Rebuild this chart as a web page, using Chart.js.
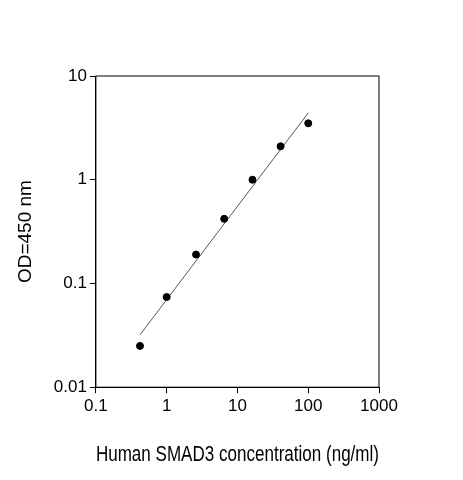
<!DOCTYPE html>
<html><head><script src="https://cdn.jsdelivr.net/npm/chart.js@4"></script>
<style>body{margin:0;background:#fff}#w{width:463px;height:480px}</style></head>
<body><div id="w"><canvas id="c"></canvas></div>
<script>
const concentration=[0.42,1.0,2.6,6.5,16.3,40.7,100];
const od=[0.025,0.074,0.19,0.42,1.0,2.1,3.5];
const fitX=[0.42,100];
const fitY=[0.032,4.4];
const xTicks=[0.1,1,10,100,1000];
const yTicks=[0.01,0.1,1,10];
const boxPlugin={id:'box',afterDraw(c){const a=c.chartArea,x=c.ctx;x.save();x.strokeStyle='#000';x.lineWidth=1;x.strokeRect(a.left,a.top,a.right-a.left,a.bottom-a.top);x.restore();}};
const font={family:'Arial, "Liberation Sans", sans-serif',size:17};
new Chart(document.getElementById('c'),{type:'scatter',
data:{datasets:[
{data:concentration.map((v,i)=>({x:v,y:od[i]})),backgroundColor:'#000',borderColor:'#000',pointRadius:3.5},
{data:fitX.map((v,i)=>({x:v,y:fitY[i]})),showLine:true,borderColor:'#555',borderWidth:1,pointRadius:0}]},
options:{animation:false,responsive:true,maintainAspectRatio:false,
layout:{padding:{top:76,right:84,left:10,bottom:8}},
plugins:{legend:{display:false},tooltip:{enabled:false}},
scales:{
x:{type:'logarithmic',min:0.1,max:1000,afterBuildTicks:s=>{s.ticks=xTicks.map(v=>({value:v}))},
ticks:{color:'#000',font,maxRotation:0,callback:v=>String(v)},
grid:{drawOnChartArea:false,color:'#000',tickLength:6},border:{color:'#000'},
title:{display:true,text:'Human SMAD3 concentration (ng/ml)',color:'#000',font:{family:font.family,size:22},padding:{top:22}}},
y:{type:'logarithmic',min:0.01,max:10,afterBuildTicks:s=>{s.ticks=yTicks.map(v=>({value:v}))},
ticks:{color:'#000',font,callback:v=>String(v)},
grid:{drawOnChartArea:false,color:'#000',tickLength:6},border:{color:'#000'},
title:{display:true,text:'OD=450 nm',color:'#000',font:{family:font.family,size:19},padding:{bottom:14}}}}},
plugins:[boxPlugin]});
</script></body></html>
